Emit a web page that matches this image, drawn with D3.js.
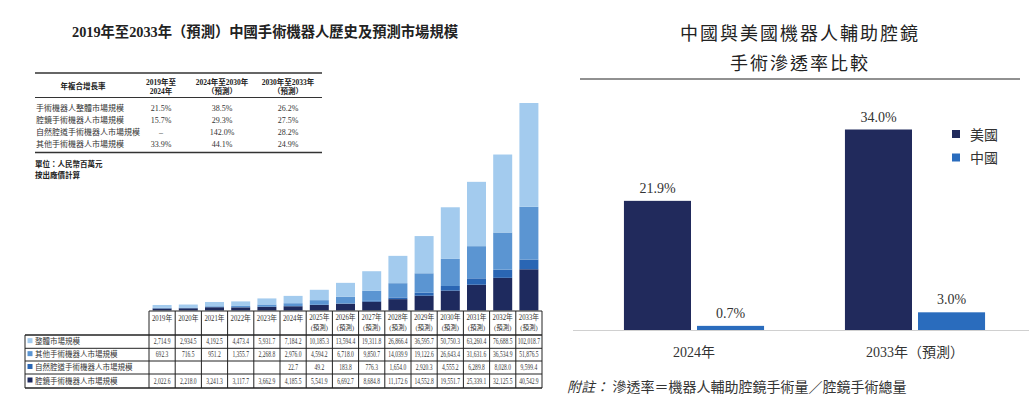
<!DOCTYPE html>
<html><head><meta charset="utf-8">
<script src="https://cdn.jsdelivr.net/npm/d3@7"></script>
<style>body{margin:0;background:#fff} svg{display:block}</style>
</head><body>
<svg id="c" width="1029" height="399"></svg>
<script>
// ---------- data: left panel ----------
const years = ["2019","2020","2021","2022","2023","2024","2025","2026","2027","2028","2029","2030","2031","2032","2033"];
const forecastFrom = 2025;
const seriesNames = ["整體市場規模","其他手術機器人市場規模","自然腔道手術機器人市場規模","腔鏡手術機器人市場規模"];
const totalMarket  = [2714.9,2934.5,4192.5,4473.4,5931.7,7184.2,10185.3,13594.4,19311.8,26866.4,36595.7,50750.3,63260.4,76688.5,102018.7];
const otherRobots  = [692.3,716.5,951.2,1355.7,2268.8,2976.0,4594.2,6718.0,9850.7,14039.9,19122.6,26643.4,31631.6,36534.9,51876.5];
const nosRobots    = [null,null,null,null,null,22.7,49.2,183.8,776.3,1654.0,2920.3,4555.2,6289.8,8028.0,9599.4];
const laparoRobots = [2022.6,2218.0,3241.3,3117.7,3662.9,4185.5,5541.9,6692.7,8684.8,11172.6,14552.8,19551.7,25339.1,32125.5,40542.9];
const seriesColors = ["#a3cbee","#5b95d2","#2a66b4","#1e2a5e"];

const cagrHeader = ["年複合增長率","2019年至|2024年","2024年至2030年|（預測）","2030年至2033年|（預測）"];
const cagrLabels = ["手術機器人整體市場規模","腔鏡手術機器人市場規模","自然腔道手術機器人市場規模","其他手術機器人市場規模"];
const cagr2019_2024 = ["21.5%","15.7%","–","33.9%"];
const cagr2024_2030 = ["38.5%","29.3%","142.0%","44.1%"];
const cagr2030_2033 = ["26.2%","27.5%","28.2%","24.9%"];
const leftNotes = ["單位：人民幣百萬元","按出廠價計算"];

// ---------- data: right panel ----------
const penCategories = ["2024年","2033年（預測）"];
const penSeries = ["美國","中國"];
const usRate = [21.9, 34.0];
const cnRate = [0.7, 3.0];
const penColors = ["#212a5c","#2a6cbd"];

const svg = d3.select("#c");
const serif = "'Liberation Serif','Noto Sans CJK TC',serif";
const sans = "'Noto Sans CJK TC','Noto Sans',sans-serif";

// ================= LEFT PANEL =================
svg.append("text").attr("x",265).attr("y",37).attr("text-anchor","middle")
  .attr("font-family",serif).attr("font-weight","bold").attr("font-size",14.3).attr("fill","#222")
  .text("2019年至2033年（預測）中國手術機器人歷史及預測市場規模");

// CAGR table
const gt = svg.append("g");
gt.append("line").attr("x1",35).attr("x2",322).attr("y1",73).attr("y2",73).attr("stroke","#333").attr("stroke-width",1.3);
gt.append("line").attr("x1",35).attr("x2",322).attr("y1",97.5).attr("y2",97.5).attr("stroke","#333").attr("stroke-width",1);
gt.append("line").attr("x1",35).attr("x2",322).attr("y1",152.5).attr("y2",152.5).attr("stroke","#333").attr("stroke-width",1.3);
const colX = [83,161,222,288];
cagrHeader.forEach((h,i)=>{
  const parts = h.split("|");
  parts.forEach((p,j)=>{
    const y = parts.length===1 ? 88.5 : 84.5 + j*9.5;
    gt.append("text").attr("x",colX[i]).attr("y",y).attr("text-anchor","middle")
      .attr("font-family", i===0?sans:serif).attr("font-weight","bold").attr("font-size",7.5).attr("fill","#222").text(p);
  });
});
const cagrCols = [cagr2019_2024,cagr2024_2030,cagr2030_2033];
cagrLabels.forEach((lab,r)=>{
  const y = 110.5 + r*12.2;
  gt.append("text").attr("x",36).attr("y",y).attr("font-family",serif).attr("font-size",8).attr("fill","#333").text(lab);
  cagrCols.forEach((col,c)=>{
    gt.append("text").attr("x",colX[c+1]).attr("y",y).attr("text-anchor","middle")
      .attr("font-family",serif).attr("font-size",8).attr("fill","#333").text(col[r]);
  });
});
leftNotes.forEach((n,i)=>{
  gt.append("text").attr("x",35).attr("y",167+i*10.5).attr("font-family",sans).attr("font-weight","bold")
    .attr("font-size",7.5).attr("fill","#222").text(n);
});

// stacked bars
const rows = years.map((yr,i)=>({year:yr,"腔鏡":laparoRobots[i],"自然":nosRobots[i]||0,"其他":otherRobots[i],"整體":totalMarket[i]}));
const keys = ["腔鏡","自然","其他","整體"];
const keyColors = {"腔鏡":seriesColors[3],"自然":seriesColors[2],"其他":seriesColors[1],"整體":seriesColors[0]};
const stacked = d3.stack().keys(keys)(rows);
const x = d3.scaleBand().domain(years).range([149,542]).paddingInner(0.275).paddingOuter(0.1375);
const yMax = d3.max(stacked[stacked.length-1], d=>d[1]);
const y = d3.scaleLinear().domain([0,yMax]).range([310.5,103]);
svg.append("g").selectAll("g").data(stacked).join("g").attr("fill",d=>keyColors[d.key])
  .selectAll("rect").data(d=>d).join("rect")
  .attr("x",d=>x(d.data.year)).attr("width",x.bandwidth())
  .attr("y",d=>y(d[1])).attr("height",d=>Math.max(0,y(d[0])-y(d[1])));

// data table
const step = x.step();
const colStart = yr => x(yr) - step*x.paddingInner()/2;
const tb = svg.append("g");
const hdrTop = 311, hdrBot = 335;
const rowB = [335,348.3,361,374,388];
const tableL = 25, labelR = colStart(years[0]), tableR = colStart(years[years.length-1])+step;
const ln = (x1,y1,x2,y2,w)=>tb.append("line").attr("x1",x1).attr("y1",y1).attr("x2",x2).attr("y2",y2).attr("stroke","#222").attr("stroke-width",w||1);
ln(labelR,hdrTop,tableR,hdrTop);
rowB.forEach((b,i)=>ln(tableL,b,tableR,b, (i===0||i===rowB.length-1)?1.3:1));
ln(tableL,rowB[0],tableL,rowB[4]);
years.forEach(yr=>ln(colStart(yr),hdrTop,colStart(yr),rowB[4]));
ln(tableR,hdrTop,tableR,rowB[4]);

function fitText(sel,maxW){
  sel.each(function(){
    const w = this.getComputedTextLength();
    if (w>maxW){ d3.select(this).attr("textLength",maxW).attr("lengthAdjust","spacingAndGlyphs"); }
  });
}
years.forEach(yr=>{
  const cx = colStart(yr)+step/2;
  const fc = +yr>=forecastFrom;
  const t = tb.append("text").attr("x",cx).attr("y",fc?320:321).attr("text-anchor","middle")
    .attr("font-family",serif).attr("font-size",7.5).attr("fill","#333").text(yr+"年");
  fitText(t, step-6);
  if(fc){
    const t2 = tb.append("text").attr("x",cx).attr("y",329.5).attr("text-anchor","middle")
      .attr("font-family",serif).attr("font-size",6.5).attr("fill","#333").text("(預測)");
    fitText(t2, step-7);
  }
});
const tableSeries = [totalMarket,otherRobots,nosRobots,laparoRobots];
const fmt = d3.format(",.1f");
tableSeries.forEach((arr,r)=>{
  const cy = (rowB[r]+rowB[r+1])/2 + 2.8;
  tb.append("rect").attr("x",27.5).attr("y",cy-6.3).attr("width",5).attr("height",5).attr("fill",seriesColors[r]);
  tb.append("text").attr("x",35).attr("y",cy).attr("font-family",serif).attr("font-size",7.5).attr("fill","#333").text(seriesNames[r]);
  arr.forEach((v,i)=>{
    if(v==null) return;
    const t = tb.append("text").attr("x",colStart(years[i])+step/2).attr("y",cy).attr("text-anchor","middle")
      .attr("font-family",serif).attr("font-size",7.5).attr("fill","#333").text(fmt(v));
    t.each(function(){
      const w = this.getComputedTextLength();
      d3.select(this).attr("textLength",Math.min(w*0.74, step-1.5)).attr("lengthAdjust","spacingAndGlyphs");
    });
  });
});

// ================= RIGHT PANEL =================
const rt = svg.append("g");
rt.append("text").attr("x",800).attr("y",40).attr("text-anchor","middle").attr("font-family",sans)
  .attr("font-size",18).attr("letter-spacing",2).attr("fill","#222").text("中國與美國機器人輔助腔鏡");
rt.append("text").attr("x",800).attr("y",70).attr("text-anchor","middle").attr("font-family",sans)
  .attr("font-size",18).attr("letter-spacing",2).attr("fill","#222").text("手術滲透率比較");
rt.append("line").attr("x1",580).attr("x2",1020).attr("y1",79).attr("y2",79).attr("stroke","#222").attr("stroke-width",1);

const x0 = d3.scaleBand().domain(penCategories).range([583.5,1025.5]).paddingInner(0.366).paddingOuter(0.183);
const x1 = d3.scaleBand().domain(penSeries).range([0,x0.bandwidth()]).paddingInner(6/73);
const yR = d3.scaleLinear().domain([0,34]).range([330,129.5]);
const penData = penCategories.map((c,i)=>({cat:c, vals:[{s:"美國",v:usRate[i]},{s:"中國",v:cnRate[i]}]}));
rt.append("line").attr("x1",573).attr("x2",1029).attr("y1",330.5).attr("y2",330.5).attr("stroke","#d0d0d0").attr("stroke-width",1);
const grp = rt.selectAll("g.grp").data(penData).join("g").attr("class","grp").attr("transform",d=>`translate(${x0(d.cat)},0)`);
grp.selectAll("rect").data(d=>d.vals).join("rect")
  .attr("x",d=>x1(d.s)).attr("width",x1.bandwidth())
  .attr("y",d=>yR(d.v)).attr("height",d=>yR(0)-yR(d.v))
  .attr("fill",(d,i)=>penColors[i]);
grp.selectAll("text").data(d=>d.vals).join("text")
  .attr("x",d=>x1(d.s)+x1.bandwidth()/2).attr("y",d=>yR(d.v)-8)
  .attr("text-anchor","middle").attr("font-family",serif).attr("font-size",14).attr("fill","#333")
  .text(d=>d.v.toFixed(1)+"%");
rt.selectAll("text.xl").data(penCategories).join("text").attr("class","xl")
  .attr("x",d=>x0(d)+x0.bandwidth()/2).attr("y",357).attr("text-anchor","middle")
  .attr("font-family",serif).attr("font-size",14).attr("fill","#333").text(d=>d);
// legend
penSeries.forEach((s,i)=>{
  rt.append("rect").attr("x",952).attr("y",130+i*23.5).attr("width",8).attr("height",8).attr("fill",penColors[i]);
  rt.append("text").attr("x",970).attr("y",139.5+i*23.5).attr("font-family",sans).attr("font-size",14).attr("fill","#333").text(s);
});
// footnote
const fn = rt.append("text").attr("x",567).attr("y",391.5).attr("font-family",serif).attr("font-size",14).attr("fill","#333");
fn.append("tspan").attr("font-style","italic").text("附註：");
fn.append("tspan").text(" 滲透率＝機器人輔助腔鏡手術量／腔鏡手術總量");
</script>
</body></html>
